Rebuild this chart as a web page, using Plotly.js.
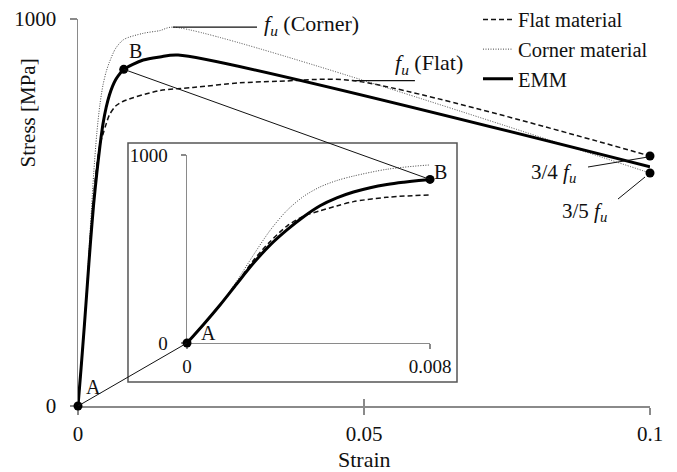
<!DOCTYPE html>
<html>
<head>
<meta charset="utf-8">
<script src="https://cdn.plot.ly/plotly-3.0.1.min.js"></script>
<style>html,body{margin:0;padding:0;background:#fff;}#chart{width:677px;height:472px;}</style>
</head>
<body>
<div id="chart"></div>
<script>
// ---- data (strain [-], stress [MPa]) ----
const strainEMM  = [0, 0.00055, 0.0011, 0.00164, 0.00219, 0.00274, 0.00329, 0.00384, 0.00438, 0.00493, 0.00548, 0.00603, 0.00658, 0.00712, 0.008, 0.0114, 0.0143, 0.0175, 0.1];
const stressEMM  = [0, 100, 205, 315, 425, 522, 602, 672, 730, 772, 803, 826, 843, 855, 870, 894, 902, 907, 618];
const strainFlat = [0, 0.00055, 0.0011, 0.00164, 0.00219, 0.00274, 0.00329, 0.00384, 0.00438, 0.00493, 0.00548, 0.00658, 0.008, 0.0143, 0.0201, 0.0283, 0.035, 0.048, 0.1];
const stressFlat = [0, 100, 205, 318, 440, 540, 622, 675, 703, 729, 752, 775, 788, 815, 823, 835, 839, 841, 646];
const strainCorner = [0, 0.00055, 0.0011, 0.00164, 0.00219, 0.00274, 0.00329, 0.00384, 0.00438, 0.00493, 0.00548, 0.00658, 0.008, 0.0114, 0.0143, 0.0166, 0.1];
const stressCorner = [0, 100, 205, 330, 469, 600, 705, 780, 830, 864, 888, 924, 947, 963, 970, 979, 602];
const seriesNames = ['Flat material', 'Corner material', 'EMM'];
const mainXTicks = [0, 0.05, 0.1];
const mainXTickText = ['0', '0.05', '0.1'];
const mainYTicks = [0, 1000];
const insetXTicks = [0, 0.008];
const insetXTickText = ['0', '0.008'];
const insetYTicks = [0, 1000];

// ---- layout helpers ----
const FONT = '"Liberation Serif", "Times New Roman", serif';
const TXT = '#111';
const AX = '#8a8a8a';
const mainXRange = [0, 0.1], mainYRange = [0, 1000];
const insetXRange = [0, 0.008], insetYRange = [0, 1000];
const insetXDom = [0.1906, 0.6154], insetYDom = [0.1628, 0.6486];
function toPaper(v, range, dom) { return dom[0] + (v - range[0]) / (range[1] - range[0]) * (dom[1] - dom[0]); }

const iB = strainEMM.indexOf(0.008);
const ptA = [strainEMM[0], stressEMM[0]];
const ptB = [strainEMM[iB], stressEMM[iB]];
const endFlat = [strainFlat[strainFlat.length - 1], stressFlat[stressFlat.length - 1]];
const endCorner = [strainCorner[strainCorner.length - 1], stressCorner[stressCorner.length - 1]];
const iPC = stressCorner.indexOf(Math.max(...stressCorner));
const iPF = stressFlat.indexOf(Math.max(...stressFlat));

const sFlat = {color: '#111', width: 1.5, dash: '5px,3px', shape: 'spline', smoothing: 0.8};
const sCorner = {color: '#444', width: 1, dash: '1px,1.5px', shape: 'spline', smoothing: 0.8};
const sEMM = {color: '#000', width: 3, shape: 'spline', smoothing: 0.8};

const traces = [
  {x: strainFlat, y: stressFlat, mode: 'lines', line: sFlat, name: seriesNames[0], legendgroup: 'g1'},
  {x: strainCorner, y: stressCorner, mode: 'lines', line: sCorner, name: seriesNames[1], legendgroup: 'g2'},
  {x: strainEMM, y: stressEMM, mode: 'lines', line: sEMM, name: seriesNames[2], legendgroup: 'g3'},
  {x: [ptA[0], ptB[0], endFlat[0], endCorner[0]], y: [ptA[1], ptB[1], endFlat[1], endCorner[1]], mode: 'markers',
   marker: {color: '#000', size: 9}, showlegend: false, cliponaxis: false, hoverinfo: 'skip'},
  // inset
  {x: strainFlat, y: stressFlat, mode: 'lines', line: sFlat, xaxis: 'x2', yaxis: 'y2', showlegend: false},
  {x: strainCorner, y: stressCorner, mode: 'lines', line: sCorner, xaxis: 'x2', yaxis: 'y2', showlegend: false},
  {x: strainEMM, y: stressEMM, mode: 'lines', line: sEMM, xaxis: 'x2', yaxis: 'y2', showlegend: false},
  {x: [ptA[0], ptB[0]], y: [ptA[1], ptB[1]], mode: 'markers', marker: {color: '#000', size: 9},
   xaxis: 'x2', yaxis: 'y2', showlegend: false, cliponaxis: false, hoverinfo: 'skip'},
  // overlay axes for crossing ticks
  {x: [], y: [], xaxis: 'x3', yaxis: 'y', showlegend: false},
  {x: [], y: [], xaxis: 'x', yaxis: 'y3', showlegend: false},
  {x: [], y: [], xaxis: 'x4', yaxis: 'y2', showlegend: false},
  {x: [], y: [], xaxis: 'x2', yaxis: 'y4', showlegend: false}
];

const tickFont = {family: FONT, size: 21, color: TXT};
const insetFont = {family: FONT, size: 19, color: TXT};
function baseAxis(extra) {
  return Object.assign({showgrid: false, zeroline: false, showline: true, linecolor: AX, linewidth: 1.5,
    ticks: 'outside', tickcolor: AX, tickwidth: 1.5, ticklen: 7, tickmode: 'array', fixedrange: true,
    layer: 'below traces'}, extra);
}
function ann(text, size, extra) {
  return Object.assign({text: text, showarrow: false, font: {family: FONT, size: size, color: TXT}}, extra);
}

const layout = {
  width: 677, height: 472,
  margin: {l: 78, r: 27, t: 19, b: 66, autoexpand: false},
  paper_bgcolor: '#fff', plot_bgcolor: 'rgba(0,0,0,0)',
  font: {family: FONT, color: TXT},
  showlegend: true,
  legend: {x: 0.6993, xanchor: 'left', y: 1.05, yanchor: 'top', font: {family: FONT, size: 20.5, color: TXT},
           bgcolor: 'rgba(0,0,0,0)', traceorder: 'grouped', tracegroupgap: 0, itemwidth: 30},
  xaxis: baseAxis({range: mainXRange, domain: [0, 1], anchor: 'y', tickvals: mainXTicks, ticktext: mainXTickText, tickfont: tickFont, ticklabelstandoff: 1}),
  yaxis: baseAxis({range: mainYRange, domain: [0, 1], anchor: 'x', tickvals: mainYTicks, ticktext: mainYTicks.map(String), tickfont: tickFont, ticklabelstandoff: 9}),
  xaxis3: baseAxis({range: mainXRange, overlaying: 'x', anchor: 'y', tickvals: mainXTicks, ticks: 'inside', showticklabels: false, showline: false}),
  yaxis3: baseAxis({range: mainYRange, overlaying: 'y', anchor: 'x', tickvals: mainYTicks, ticks: 'inside', showticklabels: false, showline: false}),
  xaxis2: baseAxis({range: insetXRange, domain: insetXDom, anchor: 'y2', tickvals: insetXTicks, ticktext: insetXTickText, tickfont: insetFont, ticklen: 5, ticklabelstandoff: 1}),
  yaxis2: baseAxis({range: insetYRange, domain: insetYDom, anchor: 'x2', tickvals: insetYTicks, ticktext: insetYTicks.map(String), tickfont: insetFont, ticklen: 5, ticklabelstandoff: 9}),
  xaxis4: baseAxis({range: insetXRange, overlaying: 'x2', anchor: 'y2', tickvals: insetXTicks, ticks: 'inside', ticklen: 5, showticklabels: false, showline: false}),
  yaxis4: baseAxis({range: insetYRange, overlaying: 'y2', anchor: 'x2', tickvals: insetYTicks, ticks: 'inside', ticklen: 5, showticklabels: false, showline: false}),
  shapes: [
    // inset frame
    {type: 'rect', xref: 'paper', yref: 'paper', x0: 0.0874, x1: 0.6626, y0: 0.062, y1: 0.6796, line: {color: '#555', width: 1.5}, layer: 'below'},
    // connectors main -> inset
    {type: 'line', xref: 'paper', yref: 'paper',
     x0: toPaper(ptA[0], mainXRange, [0, 1]), y0: toPaper(ptA[1], mainYRange, [0, 1]),
     x1: toPaper(ptA[0], insetXRange, insetXDom), y1: toPaper(ptA[1], insetYRange, insetYDom), line: {color: '#111', width: 1}},
    {type: 'line', xref: 'paper', yref: 'paper',
     x0: toPaper(ptB[0], mainXRange, [0, 1]), y0: toPaper(ptB[1], mainYRange, [0, 1]),
     x1: toPaper(ptB[0], insetXRange, insetXDom), y1: toPaper(ptB[1], insetYRange, insetYDom), line: {color: '#111', width: 1}},
    // fu lines
    {type: 'line', xref: 'x', yref: 'y', x0: strainCorner[iPC], x1: 0.0313, y0: stressCorner[iPC], y1: stressCorner[iPC], line: {color: '#111', width: 1.2}},
    {type: 'line', xref: 'x', yref: 'y', x0: strainFlat[iPF], x1: 0.0589, y0: stressFlat[iPF], y1: stressFlat[iPF], line: {color: '#111', width: 1.2}},
    // pointers to end dots
    {type: 'line', xref: 'x', yref: 'y', xsizemode: 'pixel', ysizemode: 'pixel', xanchor: endFlat[0], yanchor: endFlat[1],
     x0: -62, y0: -11, x1: -2, y1: -1, line: {color: '#111', width: 1}},
    {type: 'line', xref: 'x', yref: 'y', xsizemode: 'pixel', ysizemode: 'pixel', xanchor: endCorner[0], yanchor: endCorner[1],
     x0: -32, y0: -26, x1: -5, y1: -4, line: {color: '#111', width: 1}}
  ],
  annotations: [
    ann('Strain', 22, {xref: 'paper', yref: 'paper', x: 0.5, y: -0.1395, xanchor: 'center', yanchor: 'middle'}),
    ann('Stress [MPa]', 21, {xref: 'paper', yref: 'paper', x: -0.0874, y: 0.756, textangle: -90, xanchor: 'center', yanchor: 'middle'}),
    ann('A', 20, {xref: 'x', yref: 'y', x: ptA[0], y: ptA[1], xshift: 15, yshift: 19}),
    ann('B', 20, {xref: 'x', yref: 'y', x: ptB[0], y: ptB[1], xshift: 12, yshift: 18}),
    ann('A', 20, {xref: 'x2', yref: 'y2', x: ptA[0], y: ptA[1], xshift: 21, yshift: 10}),
    ann('B', 20, {xref: 'x2', yref: 'y2', x: ptB[0], y: ptB[1], xshift: 2, yshift: 7, xanchor: 'left'}),
    ann('<i>f</i><sub><i>u</i></sub> (Corner)', 22, {xref: 'x', yref: 'y', x: 0.0322, y: 985, xanchor: 'left', yanchor: 'middle'}),
    ann('<i>f</i><sub><i>u</i></sub> (Flat)', 22, {xref: 'x', yref: 'y', x: 0.0551, y: 884, xanchor: 'left', yanchor: 'middle'}),
    ann('3/4 <i>f</i><sub><i>u</i></sub>', 21, {xref: 'x', yref: 'y', x: endFlat[0], y: endFlat[1], xshift: -97, yshift: -17}),
    ann('3/5 <i>f</i><sub><i>u</i></sub>', 21, {xref: 'x', yref: 'y', x: endCorner[0], y: endCorner[1], xshift: -66, yshift: -39})
  ]
};

Plotly.newPlot('chart', traces, layout, {staticPlot: true, displayModeBar: false});
</script>
</body>
</html>
